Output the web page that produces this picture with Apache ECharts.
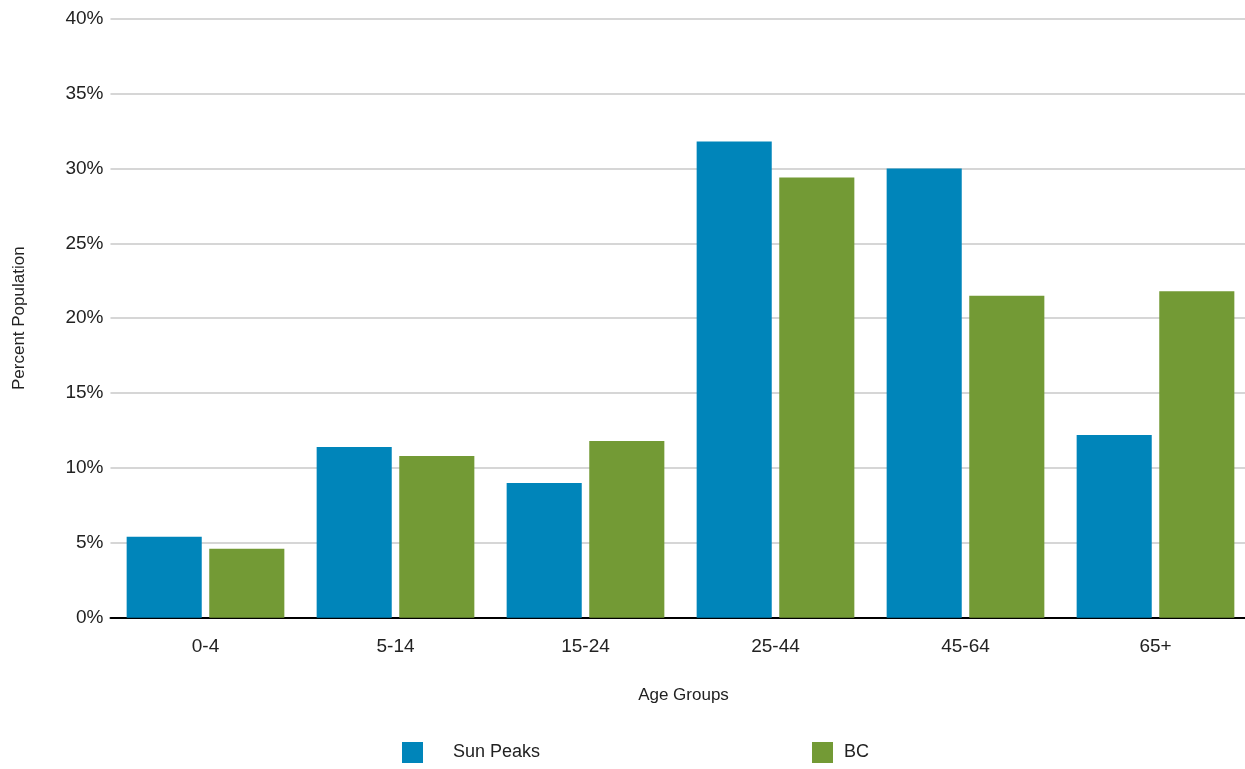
<!DOCTYPE html>
<html>
<head>
<meta charset="utf-8">
<title>Population by Age Group</title>
<script src="https://cdn.jsdelivr.net/npm/echarts@6/dist/echarts.min.js"></script>
<style>
  html, body { margin: 0; padding: 0; background: #ffffff; overflow: hidden; }
  /* the plot area runs slightly past the right edge of the window */
  #chart { width: 1251px; height: 769px; }
</style>
</head>
<body>
<div id="chart"></div>
<script>
// Age groups along the horizontal axis
const ageGroups = ['0-4', '5-14', '15-24', '25-44', '45-64', '65+'];
// Share of population in each age group (percent)
const sunPeaks = [5.4, 11.4, 9.0, 31.8, 30.0, 12.2];
const bc = [4.6, 10.8, 11.8, 29.4, 21.5, 21.8];
// Value axis range and step (percent)
const yMin = 0;
const yMax = 40;
const yStep = 5;

const FONT = '"Liberation Sans Narrow", "Arial Narrow", "Liberation Sans", Arial, sans-serif';
const TEXT = '#222222';
const BLUE = '#0085BA';
const GREEN = '#739A35';

const chart = echarts.init(document.getElementById('chart'), null, { renderer: 'canvas' });

chart.setOption({
  animation: false,
  backgroundColor: '#ffffff',
  textStyle: { fontFamily: FONT, color: TEXT },
  grid: { left: 110.5, width: 1140, top: 18.7, bottom: 151.3, containLabel: false },
  legend: [
    {
      data: ['Sun Peaks'],
      left: 402, top: 742,
      padding: 0,
      itemWidth: 21, itemHeight: 21,
      icon: 'rect',
      selectedMode: false,
      textStyle: { fontFamily: FONT, fontSize: 18, color: TEXT, padding: [0, 0, 0, 25] }
    },
    {
      data: ['BC'],
      left: 812, top: 742,
      padding: 0,
      itemWidth: 21, itemHeight: 21,
      icon: 'rect',
      selectedMode: false,
      textStyle: { fontFamily: FONT, fontSize: 18, color: TEXT, padding: [0, 0, 0, 6] }
    }
  ],
  xAxis: {
    type: 'category',
    data: ageGroups,
    name: 'Age Groups',
    nameLocation: 'middle',
    nameGap: 69,
    nameTextStyle: { fontFamily: FONT, fontSize: 17, color: TEXT, padding: [0, 0, 0, 6] },
    axisLine: { show: true, lineStyle: { color: '#000000', width: 2 } },
    axisTick: { show: false },
    axisLabel: { fontFamily: FONT, fontSize: 19, color: TEXT, margin: 20 },
    splitLine: { show: false }
  },
  yAxis: {
    type: 'value',
    min: yMin,
    max: yMax,
    interval: yStep,
    name: 'Percent Population',
    nameLocation: 'middle',
    nameGap: 83,
    nameTextStyle: { fontFamily: FONT, fontSize: 17, color: TEXT },
    axisLine: { show: false },
    axisTick: { show: false },
    axisLabel: { fontFamily: FONT, fontSize: 19, color: TEXT, margin: 7, formatter: v => v + '%' },
    splitLine: { show: true, lineStyle: { color: '#c8c8c8', width: 1.5 } }
  },
  series: [
    {
      name: 'Sun Peaks',
      type: 'bar',
      data: sunPeaks,
      itemStyle: { color: BLUE },
      barGap: '10%',
      barCategoryGap: '17%'
    },
    {
      name: 'BC',
      type: 'bar',
      data: bc,
      itemStyle: { color: GREEN }
    }
  ]
});
</script>
</body>
</html>
